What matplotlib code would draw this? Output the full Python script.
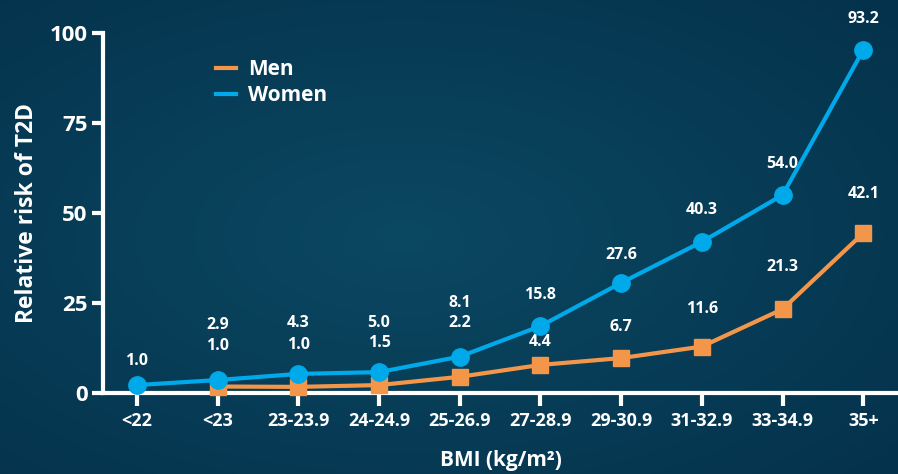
import numpy as np
import matplotlib
matplotlib.use("Agg")
import matplotlib.pyplot as plt

plt.rcParams["font.family"] = ["Open Sans", "DejaVu Sans"]
plt.rcParams["font.weight"] = "bold"

categories = ["<22", "<23", "23-23.9", "24-24.9", "25-26.9", "27-28.9",
              "29-30.9", "31-32.9", "33-34.9", "35+"]

# marker heights as drawn in the picture
women = [2.2, 3.6, 5.3, 5.8, 10.1, 18.6, 30.6, 42.0, 55.0, 95.3]
men = [None, 1.8, 1.7, 2.2, 4.5, 7.8, 9.7, 12.9, 23.3, 44.4]

# printed labels
women_labels = ["1.0", "2.9", "4.3", "5.0", "8.1", "15.8", "27.6", "40.3", "54.0", "93.2"]
men_labels = [None, "1.0", "1.0", "1.5", "2.2", "4.4", "6.7", "11.6", "21.3", "42.1"]

# label heights (data units)
women_label_y = [8.9, 19.0, 19.5, 19.5, 25.0, 27.2, 38.3, 50.8, 63.7, 103.8]
men_label_y = [None, 13.0, 13.2, 14.0, 19.5, 14.1, 18.3, 23.3, 35.0, 55.3]

ORANGE = "#f4964a"
BLUE = "#00a9e9"
WHITE = "#ffffff"

fig = plt.figure(figsize=(8.98, 4.74), dpi=100)

# background gradient
bg = fig.add_axes([0, 0, 1, 1])
yy, xx = np.mgrid[0:1:200j, 0:1:380j]
r = np.sqrt(((xx - 0.45) / 0.8) ** 2 + ((yy - 0.5) / 0.8) ** 2)
c0 = np.array([0x0b, 0x48, 0x62]) / 255
c1 = np.array([0x04, 0x30, 0x4a]) / 255
t = np.clip(r, 0, 1)[..., None]
bg.imshow(c0 * (1 - t) + c1 * t, aspect="auto", extent=[0, 1, 0, 1])
bg.set_axis_off()

ax = fig.add_axes([103 / 898, 81 / 474, 795 / 898, 360 / 474])
ax.patch.set_alpha(0)
x = np.arange(len(categories))

ax.plot(x, women, color=BLUE, lw=3, marker="o", ms=12.5, mec=BLUE,
        label="Women", zorder=4, clip_on=False)
xm = [i for i, v in enumerate(men) if v is not None]
ax.plot(xm, [men[i] for i in xm], color=ORANGE, lw=3, marker="s", ms=11.5,
        mec=ORANGE, label="Men", zorder=3, clip_on=False)

for i, lab in enumerate(women_labels):
    ax.text(x[i], women_label_y[i], lab, color=WHITE, fontsize=11.5,
            ha="center", va="center", fontweight="bold")
for i, lab in enumerate(men_labels):
    if lab is None:
        continue
    ax.text(x[i], men_label_y[i], lab, color=WHITE, fontsize=11.5,
            ha="center", va="center", fontweight="bold")

ax.set_xlim(-0.42, 9.43)
ax.set_ylim(0, 100)
ax.set_xticks(x)
ax.set_xticklabels(categories)
ax.set_yticks([0, 25, 50, 75, 100])

for s in ["top", "right"]:
    ax.spines[s].set_visible(False)
for s in ["left", "bottom"]:
    ax.spines[s].set_color(WHITE)
    ax.spines[s].set_linewidth(3)

ax.tick_params(axis="x", colors=WHITE, length=9, width=3, labelsize=13, pad=5)
ax.tick_params(axis="y", colors=WHITE, length=8, width=3, labelsize=16, pad=3)
for lab in ax.get_xticklabels() + ax.get_yticklabels():
    lab.set_fontweight("bold")

ax.set_xlabel("BMI (kg/m²)", color=WHITE, fontsize=15,
              fontweight="bold", labelpad=14)
ax.set_ylabel("Relative risk of T2D", color=WHITE, fontsize=16.5,
              fontweight="bold", labelpad=8)

handles, labels = ax.get_legend_handles_labels()
leg = ax.legend(handles[::-1], labels[::-1], loc="upper left",
                bbox_to_anchor=(0.118, 0.98), frameon=False, fontsize=15,
                handlelength=1.0, handletextpad=0.55, labelspacing=0.25,
                labelcolor=WHITE)
for h in leg.legend_handles:
    h.set_marker("")
    h.set_linewidth(3)
for t_ in leg.get_texts():
    t_.set_fontweight("bold")

fig.savefig("out.png", dpi=100)
